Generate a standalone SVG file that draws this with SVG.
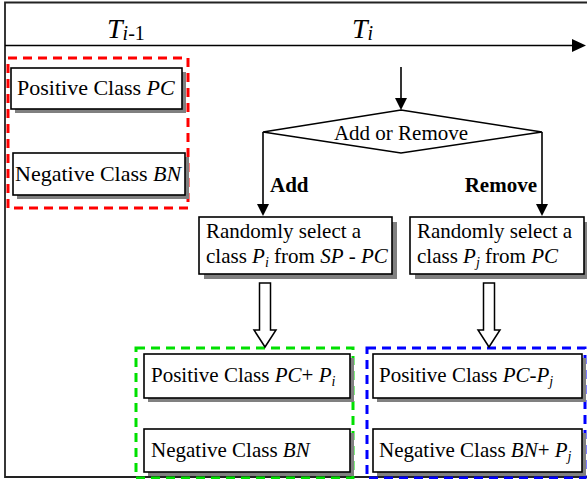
<svg xmlns="http://www.w3.org/2000/svg" width="587" height="479" viewBox="0 0 587 479" font-family="'Liberation Serif', 'DejaVu Serif', serif">
  <style>
    text { font-family: 'Liberation Serif', 'DejaVu Serif', serif; font-size: 21px; fill: #000; }
    .big { font-size: 22px; }
    .it { font-style: italic; }
    .sub { font-size: 14px; font-style: italic; }
    .bold { font-weight: bold; font-size: 21px; }
    .time { font-size: 28px; font-style: italic; }
    .tsub { font-size: 20px; }
    .up { font-style: normal; }
    .box { fill: #fff; stroke: #000; stroke-width: 1.6; }
    .shadow { fill: #808080; }
    .line { stroke: #000; stroke-width: 1.6; fill: none; }
    .head { fill: #000; }
    .hollow { fill: #fff; stroke: #000; stroke-width: 1.5; }
    .dash { fill: none; stroke-width: 3; stroke-dasharray: 9 6; }
  </style>
  <rect width="587" height="479" fill="#fff"/>

  <!-- frame and time axis -->
  <g id="frame">
    <path d="M587,2.5 H5 V477 H587" fill="none" stroke="#222" stroke-width="1.8"/>
    <line class="line" x1="5" y1="45.5" x2="574" y2="45.5"/>
    <polygon class="head" points="572,39 586,45.5 572,52"/>
    <text x="107" y="38" class="time">T<tspan class="tsub" dy="2">i</tspan><tspan class="tsub up">-1</tspan></text>
    <text x="352" y="38" class="time">T<tspan class="tsub" dy="2">i</tspan></text>
  </g>

  <!-- class groups -->
  <g id="group-prev">
    <rect class="dash" x="8" y="58" width="180" height="150" stroke="#ff0000"/>
  </g>
  <g id="group-add">
    <rect class="dash" x="136" y="348" width="217" height="130" stroke="#00e000"/>
  </g>
  <g id="group-remove">
    <rect class="dash" x="367" y="348" width="218" height="130" stroke="#0000ff"/>
  </g>

  <!-- previous step classes -->
  <g id="prev-positive">
    <rect class="shadow" x="15" y="72" width="171" height="41"/>
    <rect class="box" x="11" y="68" width="171" height="41"/>
    <text x="17" y="95" class="big">Positive Class <tspan class="it">PC</tspan></text>
  </g>
  <g id="prev-negative">
    <rect class="shadow" x="17" y="157" width="172" height="42"/>
    <rect class="box" x="13" y="153" width="172" height="42"/>
    <text x="15" y="181" class="big">Negative Class <tspan class="it">BN</tspan></text>
  </g>

  <!-- decision -->
  <g id="decision">
    <polygon points="401,110 542,132 401,153 263,132" fill="#fff" stroke="#000" stroke-width="1.6"/>
    <text x="401" y="140" text-anchor="middle">Add or Remove</text>
  </g>

  <!-- selection steps -->
  <g id="select-add">
    <rect class="shadow" x="204" y="222" width="193" height="57"/>
    <rect class="box" x="199" y="217" width="193" height="57"/>
    <text x="206" y="238">Randomly select a</text>
    <text x="206" y="263">class <tspan class="it">P</tspan><tspan class="sub" dy="4">i</tspan><tspan dy="-4"> from </tspan><tspan class="it">SP</tspan> - <tspan class="it">PC</tspan></text>
  </g>
  <g id="select-remove">
    <rect class="shadow" x="415" y="222" width="174" height="57"/>
    <rect class="box" x="410" y="217" width="174" height="57"/>
    <text x="417" y="238">Randomly select a</text>
    <text x="417" y="263">class <tspan class="it">P</tspan><tspan class="sub" dy="4">j</tspan><tspan dy="-4"> from </tspan><tspan class="it">PC</tspan></text>
  </g>

  <!-- resulting classes -->
  <g id="add-positive">
    <rect class="shadow" x="148" y="358" width="206" height="44"/>
    <rect class="box" x="144" y="354" width="206" height="44"/>
    <text x="151" y="382">Positive Class <tspan class="it">PC</tspan>+ <tspan class="it">P</tspan><tspan class="sub" dy="4">i</tspan></text>
  </g>
  <g id="add-negative">
    <rect class="shadow" x="148" y="433" width="206" height="43"/>
    <rect class="box" x="144" y="429" width="206" height="43"/>
    <text x="151" y="457">Negative Class <tspan class="it">BN</tspan></text>
  </g>
  <g id="remove-positive">
    <rect class="shadow" x="377" y="358" width="209" height="44"/>
    <rect class="box" x="373" y="354" width="209" height="44"/>
    <text x="379" y="382">Positive Class <tspan class="it">PC</tspan>-<tspan class="it">P</tspan><tspan class="sub" dy="4">j</tspan></text>
  </g>
  <g id="remove-negative">
    <rect class="shadow" x="377" y="433" width="209" height="43"/>
    <rect class="box" x="373" y="429" width="209" height="43"/>
    <text x="379" y="457">Negative Class <tspan class="it">BN</tspan>+ <tspan class="it">P</tspan><tspan class="sub" dy="4">j</tspan></text>
  </g>

  <!-- connectors -->
  <g id="connectors">
    <line class="line" x1="401" y1="67" x2="401" y2="99"/>
    <polygon class="head" points="395,98 407,98 401,110"/>
    <line class="line" x1="263" y1="132" x2="263" y2="205"/>
    <polygon class="head" points="257,204 269,204 263,216"/>
    <line class="line" x1="542" y1="132" x2="542" y2="205"/>
    <polygon class="head" points="536,204 548,204 542,216"/>
    <text x="270" y="192" class="bold">Add</text>
    <text x="537" y="192" class="bold" text-anchor="end">Remove</text>
    <polygon class="hollow" points="259.5,283 270.5,283 270.5,330 276,330 265,347 254,330 259.5,330"/>
    <polygon class="hollow" points="483.5,283 494.5,283 494.5,330 500,330 489,347 478,330 483.5,330"/>
  </g>
</svg>
